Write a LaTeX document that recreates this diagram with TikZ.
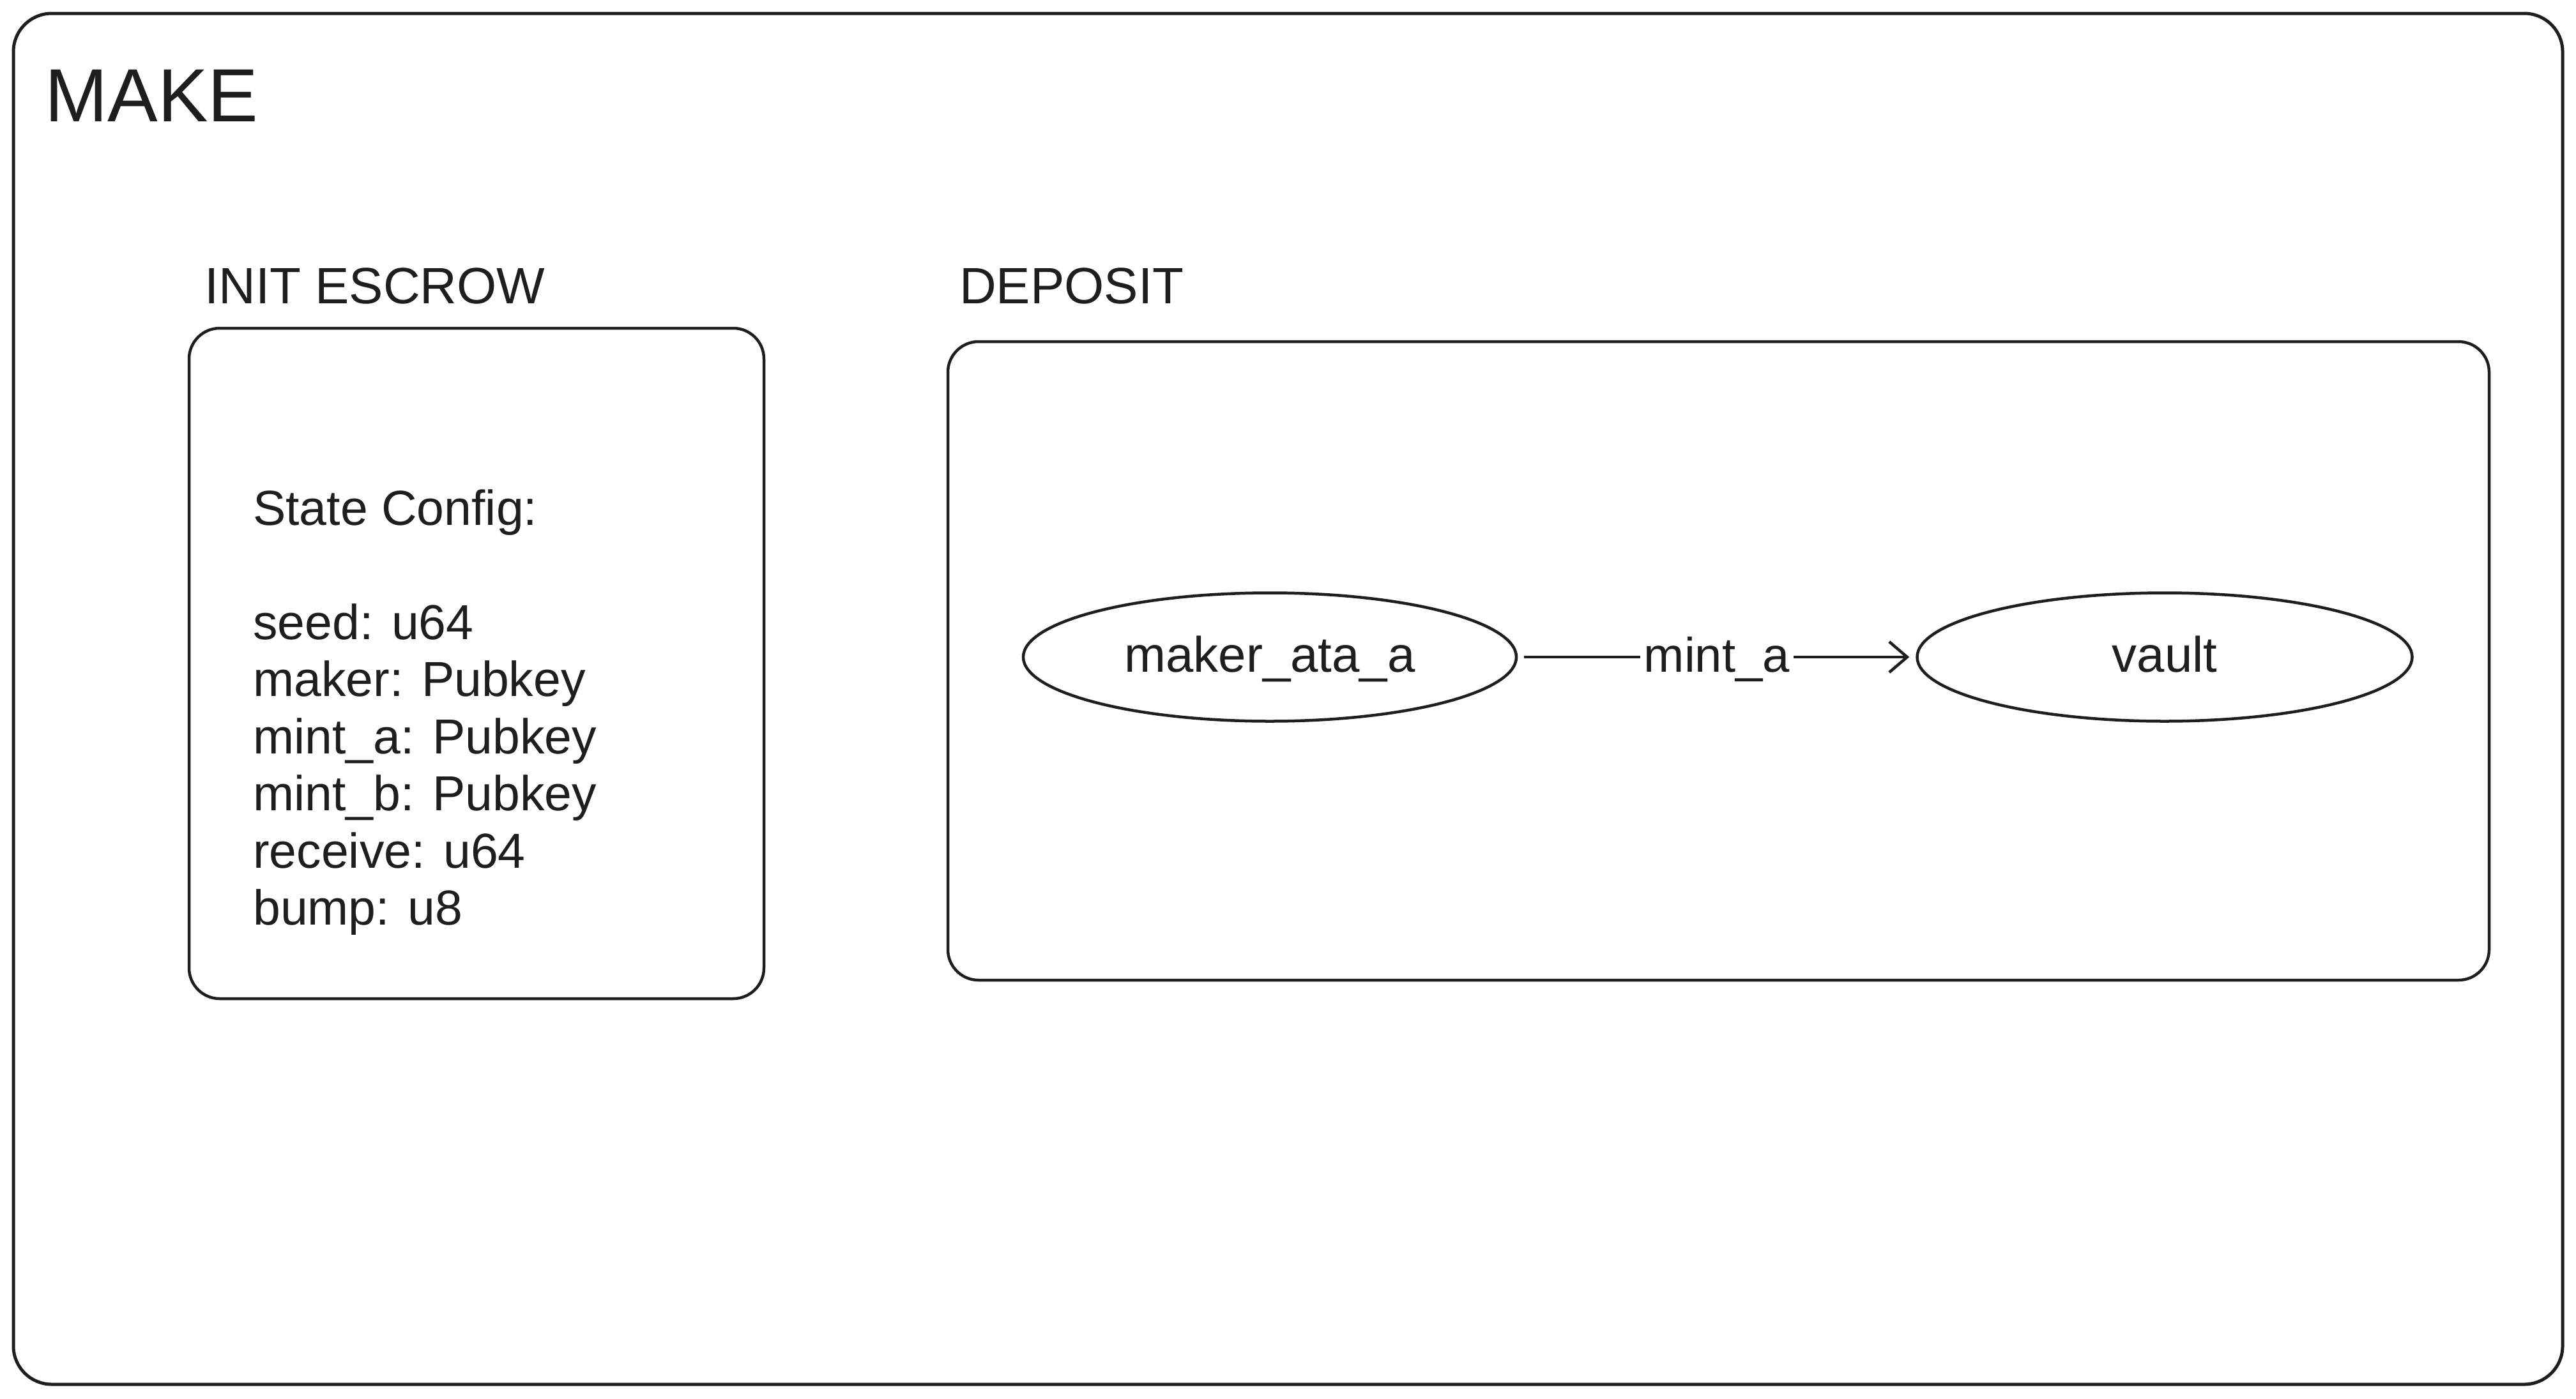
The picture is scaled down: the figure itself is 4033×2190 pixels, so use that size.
\documentclass[tikz,border=0pt]{standalone}
\usepackage{fontspec}
\setmainfont{Liberation Sans}
\usetikzlibrary{arrows.meta,shapes.geometric}
\definecolor{ink}{HTML}{1E1E1E}
\tikzset{
  frame/.style={draw=ink, line width=5pt, rounded corners=60pt, inner sep=0pt},
  panel/.style={draw=ink, line width=4.5pt, rounded corners=48pt, inner sep=0pt},
  oval/.style={draw=ink, line width=4.5pt, ellipse, inner sep=0pt, minimum width=772pt, minimum height=201pt, text height=60pt, text depth=14pt, font=\fontsize{78}{90}\selectfont, text=ink},
  title/.style={anchor=base west, inner sep=0pt, text=ink, font=\fontsize{118}{130}\selectfont},
  heading/.style={anchor=base west, inner sep=0pt, text=ink, font=\fontsize{80}{92}\selectfont},
  body/.style={anchor=base west, inner sep=0pt, text=ink, font=\fontsize{77}{90}\selectfont},
  flow/.style={draw=ink, line width=4.5pt, -{Straight Barb[length=28pt, width=48pt, line width=4.5pt]}},
  flowlabel/.style={fill=white, inner sep=6pt, text height=60pt, text depth=14pt, text=ink, font=\fontsize{76}{88}\selectfont}
}
\begin{document}
\begin{tikzpicture}[x=1pt, y=-1pt]
\useasboundingbox (0,0) rectangle (4033,2190);
\fill[white] (0,0) rectangle (4033,2190);
% outer frame
\node[frame, minimum width=3991pt, minimum height=2147pt] (outer) at (2016.5,1094.5) {};
\node[title] (make) at (70,190) {MAKE};
% headings
\node[heading] (inithead) at (320,475) {INIT ESCROW};
\node[heading] (dephead) at (1502,475) {DEPOSIT};
% panels
\node[panel, minimum width=900pt, minimum height=1050pt] (initbox) at (746,1039) {};
\node[panel, minimum width=2413pt, minimum height=1000pt] (depbox) at (2690.5,1035) {};
% state config text
\node[body] (l0) at (396,822) {State Config:};
\node[body] (l1) at (396,1001) {seed: u64};
\node[body] (l2) at (396,1090.5) {maker: Pubkey};
\node[body] (l3) at (396,1180) {mint\_a: Pubkey};
\node[body] (l4) at (396,1269.5) {mint\_b: Pubkey};
\node[body] (l5) at (396,1359) {receive: u64};
\node[body] (l6) at (396,1448.5) {bump: u8};
% deposit flow
\node[oval] (maker) at (1988,1029) {maker\_ata\_a};
\node[oval, minimum width=775pt] (vault) at (3389,1029) {vault};
\draw[flow, shorten <=10pt, shorten >=10pt] (maker) -- node[flowlabel] (lbl) {mint\_a} (vault);
\end{tikzpicture}
\end{document}
